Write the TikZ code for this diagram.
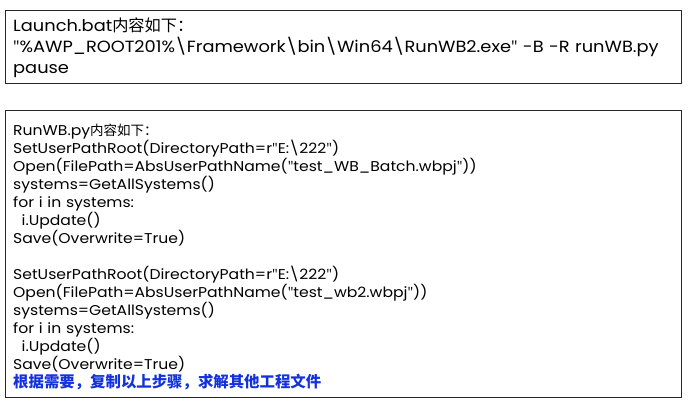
\documentclass[tikz,border=0pt]{standalone}
\usepackage{fontspec}
\setmainfont{Poppins}[FakeStretch=1.1]
\newfontfamily\cjk{Noto Sans CJK SC}
\newfontfamily\qfont{Open Sans}
\usetikzlibrary{shadows}
\definecolor{noteblue}{RGB}{20,50,220}
\newcommand{\bs}{\textbackslash}
\newcommand{\q}{{\qfont\symbol{34}}}
\begin{document}
\begin{tikzpicture}[x=1pt,y=-1pt,
  box/.style={draw=black!85, line width=0.9pt, fill=white, inner sep=0pt,
    anchor=north west, minimum width=676pt,
    drop shadow={shadow xshift=1pt, shadow yshift=-1pt, fill=black!40, opacity=1}},
  txt/.style={anchor=base west, inner sep=0pt, text width=668pt, align=left}]
\useasboundingbox[fill=white] (0,0) rectangle (688,407);
\node[box, minimum height=73pt] (batbox) at (5,10) {};
\node[box, minimum height=287pt] (pybox) at (5,110) {};
\node[txt, font=\fontsize{16.2}{20.7}\selectfont] (battext) at (13,31.7)
  {Launch.bat{\cjk 内容如下：}\\
   \q\%AWP\_ROOT201\%\bs Framework\bs bin\bs Win64\bs RunWB2.exe\q{} -B -R runWB.py\\
   pause};
\node[txt, font=\fontsize{14.2}{18}\selectfont] (pytext) at (13,135)
  {RunWB.py{\cjk\fontsize{13.5}{18}\selectfont 内容如下：}\\
   SetUserPathRoot(DirectoryPath=r\q E:\bs 222\q)\\
   Open(FilePath=AbsUserPathName(\q test\_WB\_Batch.wbpj\q))\\
   systems=GetAllSystems()\\
   for i in systems:\\
   \hspace*{8.5pt}i.Update()\\
   Save(Overwrite=True)\\[18pt]
   SetUserPathRoot(DirectoryPath=r\q E:\bs 222\q)\\
   Open(FilePath=AbsUserPathName(\q test\_wb2.wbpj\q))\\
   systems=GetAllSystems()\\
   for i in systems:\\
   \hspace*{8.5pt}i.Update()\\
   Save(Overwrite=True)\\
   {\cjk\fontsize{15.4}{18}\selectfont\bfseries\color{noteblue}根据需要，复制以上步骤，求解其他工程文件}};
\end{tikzpicture}
\end{document}
